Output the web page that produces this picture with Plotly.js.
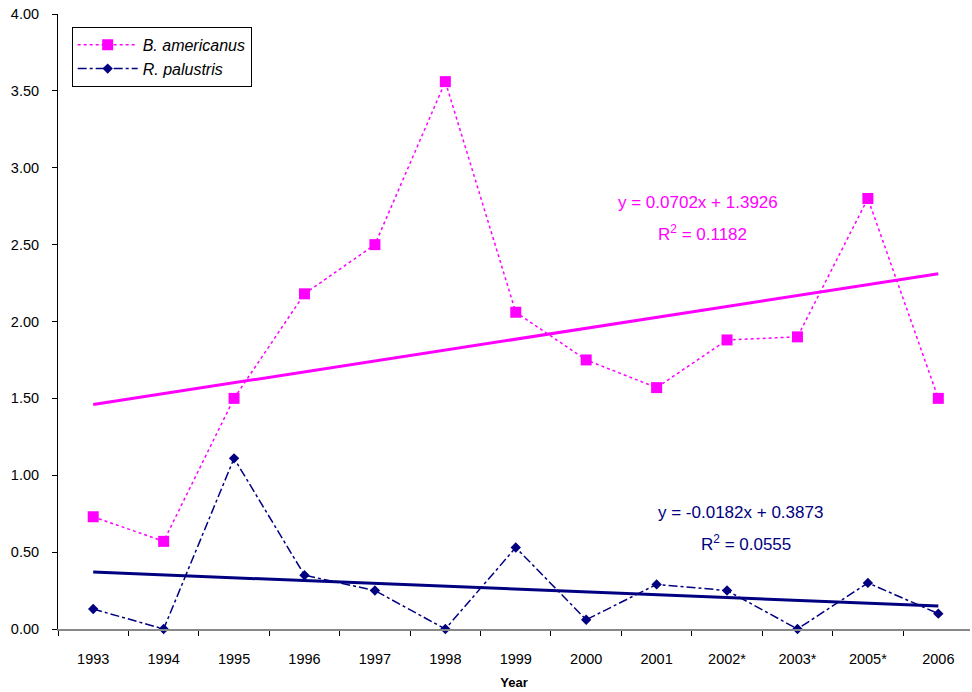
<!DOCTYPE html>
<html><head><meta charset="utf-8">
<script src="https://cdn.plot.ly/plotly-3.0.1.min.js"></script>
<style>html,body{margin:0;padding:0;background:#fff;overflow:hidden}</style>
</head><body>
<div id="chart" style="width:972px;height:692px"></div>
<script>
const years = ["1993","1994","1995","1996","1997","1998","1999","2000","2001","2002*","2003*","2005*","2006"];
const bAmericanus = [0.73,0.57,1.50,2.18,2.50,3.56,2.06,1.75,1.57,1.88,1.90,2.80,1.50];
const rPalustris = [0.13,0.00,1.11,0.35,0.25,0.00,0.53,0.06,0.29,0.25,0.00,0.30,0.10];
const trendX = ["1993","2006"];
const trendB = [1.46,2.31];
const trendR = [0.37,0.15];
const eqB = ["y = 0.0702x + 1.3926","R<sup>2</sup> = 0.1182"];
const eqR = ["y = -0.0182x + 0.3873","R<sup>2</sup> = 0.0555"];
const magenta = "#FF00FF", navy = "#000080";

const traces = [
  {x: trendX, y: trendB, mode: "lines", line: {color: magenta, width: 3}, showlegend: false, hoverinfo: "skip"},
  {x: trendX, y: trendR, mode: "lines", line: {color: navy, width: 3}, showlegend: false, hoverinfo: "skip"},
  {x: years, y: bAmericanus, name: "<i>B. americanus</i>", mode: "lines+markers", cliponaxis: false,
   line: {color: magenta, width: 1.5, dash: "dot"}, marker: {symbol: "square", size: 11, color: magenta}},
  {x: years, y: rPalustris, name: "<i>R. palustris</i>", mode: "lines+markers", cliponaxis: false,
   line: {color: navy, width: 1.5, dash: "dashdot"}, marker: {symbol: "diamond", size: 8, color: navy}}
];

function ann(x, y, text, color) {
  return {x: x, y: y, xref: "paper", yref: "paper", xanchor: "center", yanchor: "middle",
          text: text, showarrow: false, font: {color: color, size: 17}};
}

const layout = {
  width: 972, height: 692,
  margin: {l: 58, r: 2, t: 14, b: 63},
  paper_bgcolor: "#fff", plot_bgcolor: "#fff",
  font: {family: "Liberation Sans, Arial, sans-serif", color: "#000", size: 14},
  showlegend: true,
  legend: {x: 0.015, y: 0.979, xanchor: "left", yanchor: "top", bordercolor: "#000", borderwidth: 1,
           bgcolor: "#fff", font: {size: 16}, tracegroupgap: 0, traceorder: "normal", itemwidth: 60},
  xaxis: {type: "category", categoryorder: "array", categoryarray: years, range: [-0.5, 12.45],
          showline: true, linecolor: "#888", linewidth: 1.5, ticks: "outside", tickson: "boundaries",
          ticklen: 5, tickcolor: "#000", showgrid: false, zeroline: false, ticklabelstandoff: 16,
          tickfont: {size: 14.5},
          title: {text: "<b>Year</b>", font: {size: 13}, standoff: 12}},
  yaxis: {range: [0, 4], dtick: 0.5, tickformat: ".2f", showline: true, linecolor: "#000", linewidth: 1,
          ticks: "outside", ticklen: 5, tickcolor: "#000", showgrid: false, zeroline: false,
          ticklabelstandoff: 10, tickfont: {size: 14.5}},
  annotations: [
    ann(0.702, 0.694, eqB[0], magenta),
    ann(0.707, 0.644, eqB[1], magenta),
    ann(0.748, 0.190, eqR[0], navy),
    ann(0.754, 0.140, eqR[1], navy)
  ]
};
Plotly.newPlot("chart", traces, layout, {displayModeBar: false, staticPlot: true});
</script>
</body></html>
